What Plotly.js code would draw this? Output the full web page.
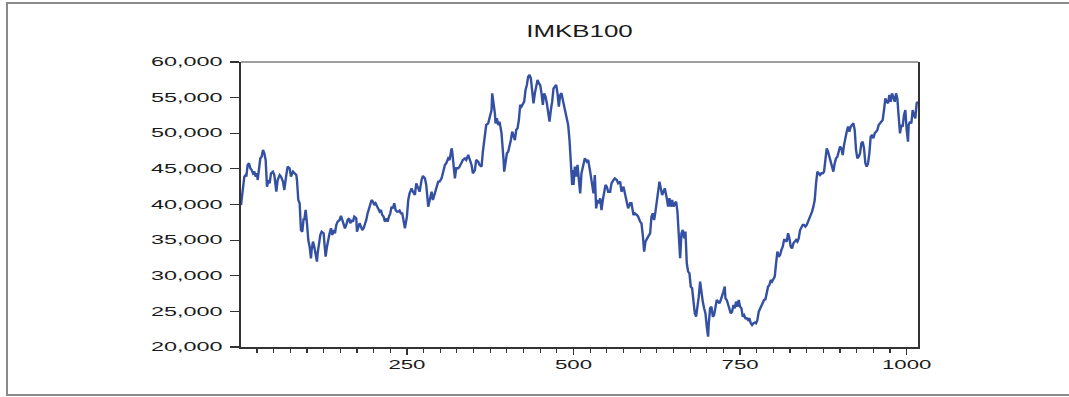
<!DOCTYPE html>
<html>
<head>
<meta charset="utf-8">
<script src="https://cdn.plot.ly/plotly-3.0.1.min.js"></script>
<style>
html,body{margin:0;padding:0;background:#fff;}
#wrap{position:relative;width:1069px;height:397px;overflow:hidden;}
#chart{position:absolute;left:0;top:0;width:1069px;height:397px;}
#frame{position:absolute;left:6px;top:2px;width:1100px;height:394px;border:2px solid #8a8a8a;box-sizing:border-box;pointer-events:none;}
</style>
</head>
<body>
<div id="wrap"><div id="chart"></div><div id="frame"></div></div>
<script>
const obs1 = [1,3,4,6,8,9,11,13,15,17,19,21,23,25,26,28,30,32,34,36,38,40,42,44,46,49,51,54,56,59,61,64,66,69,71,74,76,79,81,84,85,87,89,91,93,95,96,98,100,102,104,106,107,109,111,113,115,116,118,120,122,125,126,128,130,132,134,136,138,140,142,144,146,149,151,153,155,157,159,161,163,165,167,169,171,174,175,177,179,181,183,185,187,189,191,193,195,197,199,201,203,205,207,209,211,213,215,217,219,221,223,225,227,229,231,233,235,237,239,241,243,245,247];
const imkb1 = [39930,41570,41800,43910,44140,43910,45550,45780,45080,44840,44380,44610,43910,44380,43440,45080,46480,46710,47650,47180,46250,42500,43440,42970,44380,44610,44140,41800,43440,44140,43910,43210,42040,44140,45310,45080,43910,44610,44380,44140,43440,40630,40170,36420,36190,38060,37830,39230,37360,35020,34080,32450,33620,34790,34080,32680,31980,33150,34320,35720,36190,35960,34790,32680,34080,35250,35960,36660,35720,36420,35960,37130,37590,37830,38390,37830,37360,36660,37130,37830,38060,37360,37830,37590,38300,38060,36190,36660,37360,36890,36420,36660,37130,37830,38760,39460,39930,40630,40400,39930,40170,39700,39460,39000,39230,38530,38300,37590,38060,37590,38300,38760,39700,39460,40170,39230,39000,39000,39140,38760,38760,37830,36660];

const obs2 = [250,252,254,257,259,262,264,267,269,272,274,277,279,282,284,287,289,292,294,297,299,302,304,307,309,312,314,317,318,320,322,324,327,329,332,334,337,339,342,344,347,349,352,354,357,359,362,364,367,369,372,374,377,378,380,382,383,385,387,389,392,393,395,396,398,400,402,404,406,408,410,412,414,416,418,420,422,424,426,428,430,432,434,436,438,440,442,444,446,448,450,452,454,456,458,460,462,464,466,468,470,472,474,476,478,480,482,484,486,488,490,492,494,495,497,498];
const imkb2 = [38300,40630,41570,42270,41800,41340,42970,42270,41800,43440,44000,43670,42740,39700,40400,41800,40630,41800,42270,43210,43210,43670,44380,45550,45780,46480,46250,47880,47420,44840,43670,45080,45080,45310,45780,46250,46480,46250,46950,46250,45550,44380,44840,46250,46010,45550,45310,47420,49760,51160,51390,52330,53260,55600,54430,52800,51390,52090,51160,51630,49990,49050,46250,44610,46250,47180,47420,48120,49050,50220,49760,49050,50460,50690,51860,53970,53730,54200,54430,56070,56770,57940,58180,57710,56070,54200,55600,56540,57470,57010,56770,55600,53970,55600,55130,54200,53030,51630,53260,54430,56300,56540,56770,55600,53730,55370,55600,54670,53730,52800,52330,51160,49050,47650,45310,42740];

const obs3 = [499,500,502,504,506,508,510,512,515,517,520,522,525,527,530,532,534,536,538,540,542,544,546,548,550,552,555,557,560,562,565,567,570,572,575,577,580,582,585,587,590,592,595,597,600,602,604,606,608,610,612,615,617,619,621,623,625,627,629,631,633,635,637,640,642,644,646,648,650,652,654,656,658,660,662,664,666,668,670,672,674,676,678,680,682,684,686,688,690,692,694,696,698,700,702,703,705,707,709,711,713,715,717,719,721,723,725,727,728,730,732,734,736,738,740,742,744,746,748,750];
const imkb3 = [44840,42740,45310,43910,45550,42970,41570,44380,45780,46480,46010,46250,44610,43210,41570,44140,39460,40630,40170,40870,39230,40630,41570,42740,42500,41800,41800,42970,43440,43670,43440,42970,43210,41800,42500,41570,40170,39460,40170,40170,38530,38760,38530,38300,37590,37360,35720,33380,34790,35250,35490,35960,38300,38760,37830,39000,40630,42500,43210,42270,41340,41800,42270,40870,39700,40870,39700,40630,39700,40170,40400,39000,36420,32450,35960,36420,35250,36190,31750,30580,30340,28470,28240,26600,24730,24260,25430,27070,29170,27540,26370,25430,24730,22860,21450,23330,25430,25660,24260,24490,25900,26600,26370,26130,26600,27070,27770,28470,26830,26600,25900,25200,24730,24960,25900,25430,26370,25660,26600,25660];

const obs4 = [752,754,756,758,760,762,764,766,768,770,772,774,776,778,780,782,784,786,788,790,792,794,796,798,800,802,804,806,808,810,812,814,816,818,820,822,824,826,828,830,832,834,836,838,840,842,844,846,848,850,852,854,856,858,860,862,864,866,868,870,872,874,876,878,880,882,884,886,888,890,892,894,896,898,900,902,904,906,908,910,912,914,916,918,920,922,924,926,928,930,932,934,936,938,940,942,944,946,948,950,952,954,956,958,960,962,964,966,968,970,972,974,976,978,980,982,984,986,988,990,992,994,996,998,1000,1002,1003,1005,1007,1009,1011,1013,1015,1017];
const imkb4 = [25430,24260,24490,24030,24030,23790,24030,23330,23090,23330,23420,23330,23790,24960,25430,25660,26130,26600,26690,27540,28470,28700,29410,29170,29640,29870,31750,33380,32680,32910,33620,34080,35020,35020,34790,35960,35250,34080,33850,34550,34790,35020,34790,35250,36420,36890,37130,37130,36890,37130,37590,38060,38300,39000,39700,40630,42970,44610,44380,44140,44380,44380,44610,46010,47880,47420,46710,46250,45310,44610,45780,46480,46710,47650,48120,47880,46950,48350,49520,50220,50930,50220,50930,51160,51390,50460,47650,46480,46710,47180,48590,48820,47880,45780,45310,45780,47180,49520,49760,49290,49990,50220,50460,51160,51390,51630,51860,53260,54900,54430,54200,55370,54430,55600,55130,54430,55600,54900,52330,49990,51160,50930,52560,53260,50460,48820,51160,51630,51390,53260,52560,52090,54200,54430];

const chartTitle = 'IMKB100';
const yRange = [20000, 60000];
const xRange = [1, 1017];

const obs = obs1.concat(obs2, obs3, obs4);
const imkb = imkb1.concat(imkb2, imkb3, imkb4);
if (obs.length !== imkb.length) console.warn('length mismatch', obs.length, imkb.length);

const font = 'Liberation Sans, Arial, Helvetica, sans-serif';
const axisColor = '#333333';

const data = [{
  type: 'scatter', mode: 'lines', x: obs, y: imkb,
  line: {color: '#3450a3', width: 2.4}, hoverinfo: 'skip'
}];

const layout = {
  width: 1069, height: 397,
  margin: {l: 241, r: 151, t: 62, b: 50, pad: 0},
  paper_bgcolor: 'rgba(0,0,0,0)', plot_bgcolor: '#ffffff',
  showlegend: false,
  title: {text: chartTitle, x: 0.5, xref: 'paper', xanchor: 'center',
          y: 1 - 31/397, yref: 'container', yanchor: 'middle',
          font: {family: font, size: 16, color: '#1a1a1a'}},
  xaxis: {
    range: xRange, tickmode: 'linear', tick0: 0, dtick: 250, tickformat: 'd',
    ticks: 'outside', ticklen: 6, tickwidth: 1.5, tickcolor: axisColor,
    showline: true, linecolor: axisColor, linewidth: 2, mirror: false,
    showgrid: false, zeroline: false,
    tickfont: {family: font, size: 12, color: '#1a1a1a'},
    minor: {tick0: 0, dtick: 25, ticks: 'outside', ticklen: 4, tickwidth: 1.2, tickcolor: axisColor, showgrid: false}
  },
  yaxis: {
    range: yRange, tickmode: 'linear', tick0: 0, dtick: 5000, tickformat: ',d',
    ticks: 'outside', ticklen: 9, tickwidth: 1.2, tickcolor: axisColor,
    showline: true, linecolor: axisColor, linewidth: 2, mirror: true,
    showgrid: false, zeroline: false, ticklabelstandoff: 5,
    tickfont: {family: font, size: 12, color: '#1a1a1a'}
  },
  shapes: [{type: 'line', xref: 'paper', yref: 'paper', x0: 0, x1: 1, y0: 1, y1: 1,
            line: {color: '#7f7f7f', width: 1.5}}]
};

Plotly.newPlot('chart', data, layout, {staticPlot: true, displayModeBar: false}).then(function (gd) {
  function stretch(sel, f) {
    gd.querySelectorAll(sel).forEach(function (t) {
      const w = t.getComputedTextLength();
      if (w > 0) {
        t.setAttribute('textLength', (w * f).toFixed(1));
        t.setAttribute('lengthAdjust', 'spacingAndGlyphs');
      }
    });
  }
  stretch('.xtick text', 1.85);
  stretch('.ytick text', 1.95);
  stretch('.gtitle', 1.62);
});
</script>
</body>
</html>
